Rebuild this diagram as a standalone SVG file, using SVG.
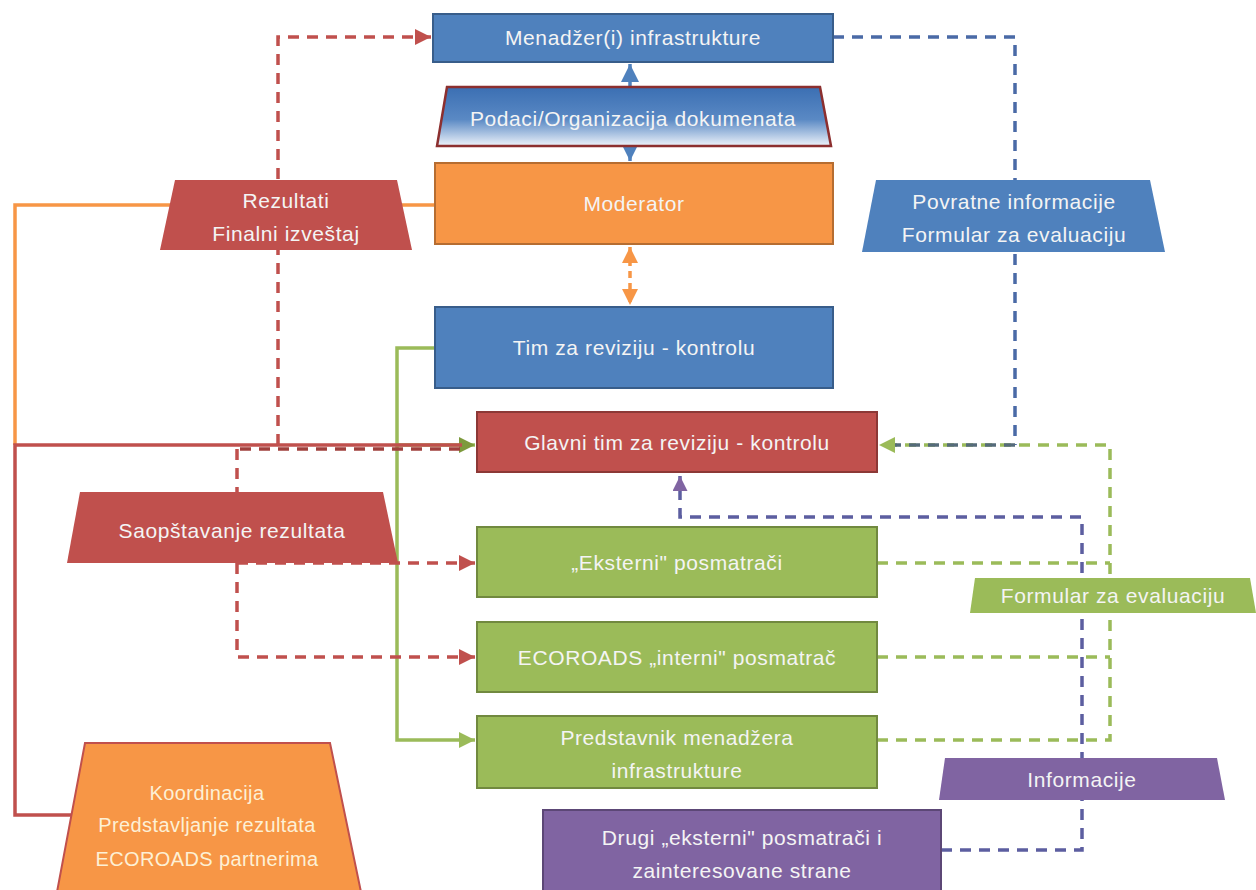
<svg xmlns="http://www.w3.org/2000/svg" width="1256" height="890" viewBox="0 0 1256 890">
<style>
  text { font-family: "Liberation Sans", Arial, sans-serif; font-size: 21px; letter-spacing: 0.6px; fill: #f4f4f4; text-anchor: middle; }
  .small { font-size: 20px; letter-spacing: 0.4px; }
  .blue { fill: #4f81bd; stroke: #385d8a; stroke-width: 2; }
  .orange { fill: #f79646; stroke: #b66d31; stroke-width: 2; }
  .red { fill: #c0504d; stroke: #8c3836; stroke-width: 2; }
  .green { fill: #9bbb59; stroke: #71893f; stroke-width: 2; }
  .purple { fill: #8064a2; stroke: #5c4776; stroke-width: 2; }
  .tRed { fill: #c0504d; }
  .tBlue { fill: #4f81bd; }
  .tGreen { fill: #9bbb59; }
  .tPurple { fill: #8064a2; }
  .tOrange { fill: #f79646; stroke: #c0504d; stroke-width: 2; }
  .c { fill: none; stroke-width: 3.5; }
  .dash { stroke-dasharray: 11 8; }
  .cream { fill: #fdf0d5; }
</style>
<defs>
  <marker id="aR" viewBox="0 0 10 10" refX="10" refY="5" markerWidth="16" markerHeight="16" markerUnits="userSpaceOnUse" orient="auto-start-reverse"><path d="M0,0 L10,5 L0,10 z" fill="#c0504d"/></marker>
  <marker id="aG" viewBox="0 0 10 10" refX="10" refY="5" markerWidth="16" markerHeight="16" markerUnits="userSpaceOnUse" orient="auto-start-reverse"><path d="M0,0 L10,5 L0,10 z" fill="#9bbb59"/></marker>
  <marker id="aGd" viewBox="0 0 10 10" refX="10" refY="5" markerWidth="16" markerHeight="16" markerUnits="userSpaceOnUse" orient="auto-start-reverse"><path d="M0,0 L10,5 L0,10 z" fill="#7d9a3c"/></marker>
  <marker id="aB" viewBox="0 0 10 10" refX="10" refY="5" markerWidth="18" markerHeight="18" markerUnits="userSpaceOnUse" orient="auto-start-reverse"><path d="M0,0 L10,5 L0,10 z" fill="#4f81bd"/></marker>
  <marker id="aO" viewBox="0 0 10 10" refX="10" refY="5" markerWidth="16" markerHeight="16" markerUnits="userSpaceOnUse" orient="auto-start-reverse"><path d="M0,0 L10,5 L0,10 z" fill="#f79646"/></marker>
  <marker id="aP" viewBox="0 0 10 10" refX="10" refY="5" markerWidth="15" markerHeight="15" markerUnits="userSpaceOnUse" orient="auto-start-reverse"><path d="M0,0 L10,5 L0,10 z" fill="#8064a2"/></marker>
  <linearGradient id="gPod" x1="0" y1="0" x2="0" y2="1">
    <stop offset="0" stop-color="#3b6fb3"/>
    <stop offset="0.55" stop-color="#5a89c4"/>
    <stop offset="1" stop-color="#eef3fa"/>
  </linearGradient>
</defs>

<g id="connectors">
  <path class="c" stroke="#f79646" d="M435,205 H15 V445"/>
  <path class="c" stroke="#9bbb59" d="M435,348 H397 V740 H475" marker-end="url(#aG)"/>
  <path class="c" stroke="#9bbb59" d="M397,445 H475" marker-end="url(#aGd)"/>
  <path class="c" stroke="#c0504d" d="M72,815 H15 V445 H462"/>
  <path class="c dash" stroke="#c0504d" d="M278,445 V37 H431" marker-end="url(#aR)"/>
  <path class="c dash" stroke="#a0403d" d="M240,449 H462"/>
  <path class="c dash" stroke="#c0504d" d="M237,449 V657 H475" marker-end="url(#aR)"/>
  <path class="c dash" stroke="#c0504d" d="M237,563 H475" marker-end="url(#aR)"/>
  <path class="c" stroke="#4f81bd" d="M630,64 V161" marker-start="url(#aB)" marker-end="url(#aB)"/>
  <path class="c" stroke="#f79646" stroke-dasharray="7 5" d="M630,247 V305" marker-start="url(#aO)" marker-end="url(#aO)"/>
  <path class="c dash" stroke="#9bbb59" d="M877,563 H1110"/>
  <path class="c dash" stroke="#9bbb59" d="M877,657 H1110"/>
  <path class="c dash" stroke="#9bbb59" d="M877,740 H1110 V445 H879" marker-end="url(#aG)"/>
  <path class="c dash" stroke="#4a6aa6" d="M833,37 H1015 V445"/>
  <path class="c dash" stroke="#556b7a" d="M1015,445 H895"/>
  <path class="c dash" stroke="#5c5ea0" d="M941,850 H1082 V517 H680 V476" marker-end="url(#aP)"/>
</g>

<g id="menadzer">
  <rect class="blue" x="433" y="14" width="400" height="48"/>
  <text x="633" y="45">Menadžer(i) infrastrukture</text>
</g>
<g id="podaci">
  <polygon points="447,87 820,87 831,146 437,146" fill="url(#gPod)" stroke="#8c2f2f" stroke-width="2.5"/>
  <text x="633" y="126">Podaci/Organizacija dokumenata</text>
</g>
<g id="moderator">
  <rect class="orange" x="435" y="163" width="398" height="81"/>
  <text x="634" y="211">Moderator</text>
</g>
<g id="tim">
  <rect class="blue" x="435" y="307" width="398" height="81"/>
  <text x="634" y="355">Tim za reviziju - kontrolu</text>
</g>
<g id="glavni">
  <rect class="red" x="477" y="412" width="400" height="60"/>
  <text x="677" y="450">Glavni tim za reviziju - kontrolu</text>
</g>
<g id="eksterni">
  <rect class="green" x="477" y="527" width="400" height="70"/>
  <text x="677" y="570">„Eksterni" posmatrači</text>
</g>
<g id="interni">
  <rect class="green" x="477" y="622" width="400" height="70"/>
  <text x="677" y="665">ECOROADS „interni" posmatrač</text>
</g>
<g id="predstavnik">
  <rect class="green" x="477" y="716" width="400" height="72"/>
  <text x="677" y="745">Predstavnik menadžera</text>
  <text x="677" y="778">infrastrukture</text>
</g>
<g id="drugi">
  <rect class="purple" x="543" y="810" width="398" height="84"/>
  <text x="742" y="845">Drugi „eksterni" posmatrači i</text>
  <text x="742" y="878">zainteresovane strane</text>
</g>

<g id="rezultati">
  <polygon class="tRed" points="175,180 397,180 412,250 160,250"/>
  <text x="286" y="208">Rezultati</text>
  <text x="286" y="241">Finalni izveštaj</text>
</g>
<g id="povratne">
  <polygon class="tBlue" points="876,180 1150,180 1165,252 862,252"/>
  <text x="1014" y="209">Povratne informacije</text>
  <text x="1014" y="242">Formular za evaluaciju</text>
</g>
<g id="saopstavanje">
  <polygon class="tRed" points="80,492 383,492 398,563 67,563"/>
  <text x="232" y="538">Saopštavanje rezultata</text>
</g>
<g id="formular">
  <polygon class="tGreen" points="975,578 1250,578 1256,613 970,613"/>
  <text x="1113" y="603">Formular za evaluaciju</text>
</g>
<g id="informacije">
  <polygon class="tPurple" points="945,758 1217,758 1225,800 939,800"/>
  <text x="1082" y="787">Informacije</text>
</g>
<g id="koordinacija">
  <polygon class="tOrange" points="85,743 330,743 361,892 57,892"/>
  <text class="small cream" x="207" y="800">Koordinacija</text>
  <text class="small cream" x="207" y="832">Predstavljanje rezultata</text>
  <text class="small cream" x="207" y="866">ECOROADS partnerima</text>
</g>
</svg>
